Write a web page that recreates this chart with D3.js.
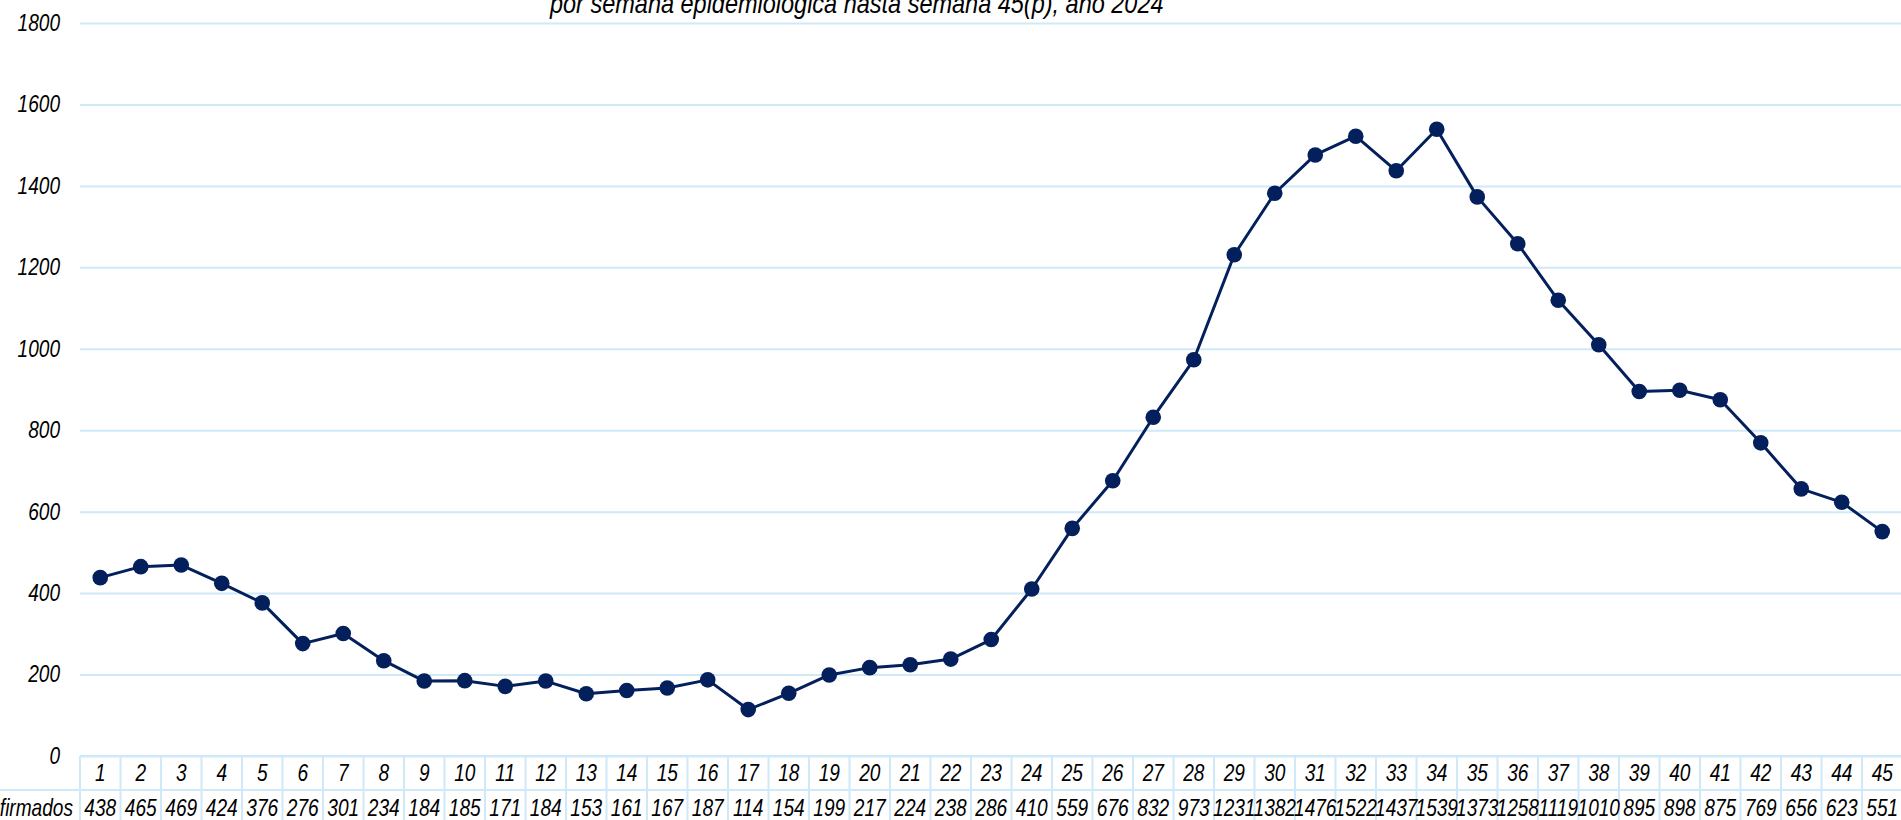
<!DOCTYPE html>
<html>
<head>
<meta charset="utf-8">
<script src="https://cdn.jsdelivr.net/npm/d3@7"></script>
<style>
html,body{margin:0;padding:0;background:#fff;overflow:hidden;}
svg{display:block;}
text{font-family:"Liberation Sans","Arial",sans-serif;font-style:italic;fill:#000;}
</style>
</head>
<body>
<svg id="chart" width="1901" height="820"></svg>
<script>
const weeks = [1,2,3,4,5,6,7,8,9,10,11,12,13,14,15,16,17,18,19,20,21,22,23,24,25,26,27,28,29,30,31,32,33,34,35,36,37,38,39,40,41,42,43,44,45];
const confirmados = [438,465,469,424,376,276,301,234,184,185,171,184,153,161,167,187,114,154,199,217,224,238,286,410,559,676,832,973,1231,1382,1476,1522,1437,1539,1373,1258,1119,1010,895,898,875,769,656,623,551];
const yTicks = [0,200,400,600,800,1000,1200,1400,1600,1800];
const seriesName = "Confirmados";
const titleLine = "por semana epidemiológica hasta semana 45(p), año 2024";

(function(){
const svg = d3.select("#chart");
const left = 80, colW = 40.5;
const right = left + colW * weeks.length;
const plotTop = 23, zeroY = 756, rowH = 34;
const gridColor = "#cfe9f8";
const navy = "#04205c";
const SX = 0.83;

function squeeze(sel, sx) {
  sel.each(function() {
    const t = d3.select(this);
    const px = +t.attr("x") || 0, py = +t.attr("y") || 0;
    t.attr("x", 0).attr("y", 0).attr("transform", `translate(${px},${py}) scale(${sx},1)`);
  });
}

const x = d3.scaleBand().domain(weeks).range([left, right]).padding(0);
const y = d3.scaleLinear().domain([0, 1800]).range([zeroY, plotTop]);

// title (second line; first line lies above the visible area)
svg.append("text").attr("x", 550).attr("y", 13).attr("text-anchor", "start")
  .style("font-size", "27px").text(titleLine).call(squeeze, 0.87);

// y axis with gridlines
const yAxis = d3.axisLeft(y).tickValues(yTicks).tickSize(-(1901 - left)).tickPadding(20).tickFormat(d3.format("d"));
const gy = svg.append("g").attr("transform", `translate(${left},0)`).call(yAxis);
gy.select(".domain").remove();
gy.attr("font-family", null).attr("font-size", null);
gy.selectAll(".tick line").attr("stroke", gridColor).attr("stroke-width", 2);
gy.selectAll(".tick text").style("font-size", "23px").attr("fill", "#000").call(squeeze, SX);

// table lines
const tbl = svg.append("g");
tbl.append("line").attr("x1", left).attr("x2", 1901).attr("y1", zeroY).attr("y2", zeroY)
  .attr("stroke", gridColor).attr("stroke-width", 2);
tbl.append("line").attr("x1", 0).attr("x2", 1901).attr("y1", zeroY + rowH).attr("y2", zeroY + rowH)
  .attr("stroke", gridColor).attr("stroke-width", 2);
tbl.selectAll("line.v").data(weeks).join("line").attr("class", "v")
  .attr("x1", d => x(d)).attr("x2", d => x(d))
  .attr("y1", zeroY).attr("y2", 820)
  .attr("stroke", gridColor).attr("stroke-width", 2);

// header row (week numbers)
tbl.selectAll("text.wk").data(weeks).join("text").attr("class", "wk")
  .attr("x", d => x(d) + x.bandwidth() / 2).attr("y", zeroY + rowH / 2)
  .attr("dy", "0.35em").attr("text-anchor", "middle").style("font-size", "23px")
  .text(d => d).call(squeeze, SX);

// values row
tbl.selectAll("text.val").data(weeks).join("text").attr("class", "val")
  .attr("x", d => x(d) + x.bandwidth() / 2).attr("y", zeroY + rowH + 18)
  .attr("dy", "0.35em").attr("text-anchor", "middle").style("font-size", "23px")
  .text((d, i) => confirmados[i]).call(squeeze, SX);

tbl.append("text").attr("x", 73).attr("y", zeroY + rowH + 18).attr("dy", "0.35em")
  .attr("text-anchor", "end").style("font-size", "23px").text(seriesName).call(squeeze, SX);

// line and markers
const cx = d => x(d) + x.bandwidth() / 2;
const line = d3.line().x((d, i) => cx(weeks[i])).y(d => y(d));
svg.append("path").datum(confirmados).attr("d", line)
  .attr("fill", "none").attr("stroke", navy).attr("stroke-width", 3).attr("stroke-linejoin", "round");
svg.selectAll("circle.pt").data(confirmados).join("circle").attr("class", "pt")
  .attr("cx", (d, i) => cx(weeks[i])).attr("cy", d => y(d)).attr("r", 7.8)
  .attr("fill", navy);
})();
</script>
</body>
</html>
